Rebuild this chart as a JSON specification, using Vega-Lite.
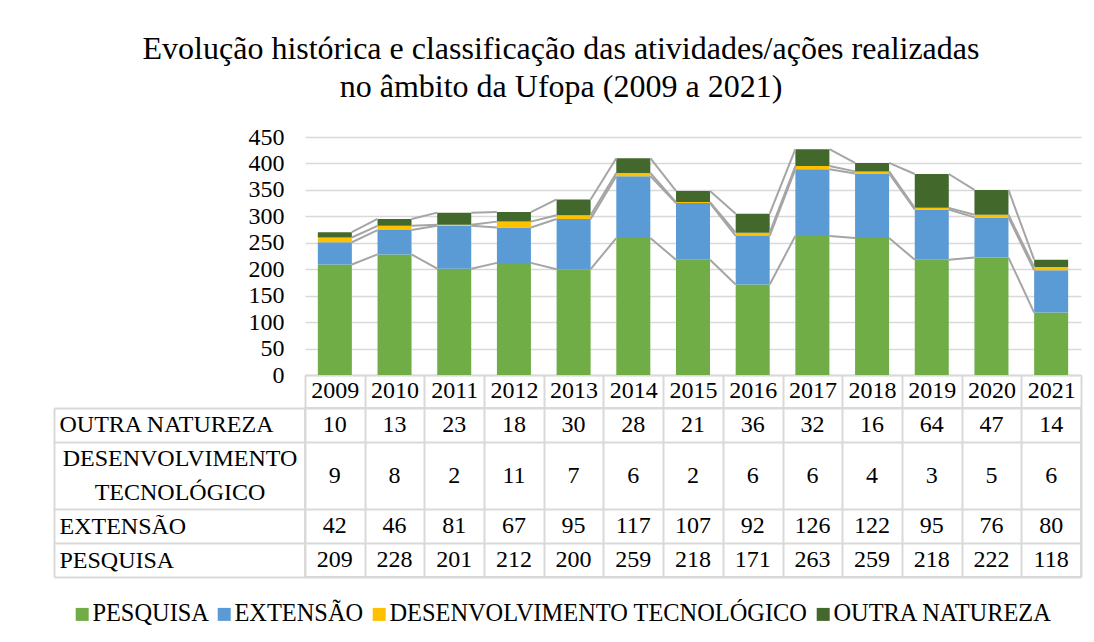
{
  "$schema": "https://vega.github.io/schema/vega-lite/v6.json",
  "background": "white",
  "padding": {"left": 52, "top": 33, "right": 5, "bottom": 5},
  "title": {
    "text": ["Evolução histórica e classificação das atividades/ações realizadas", "no âmbito da Ufopa (2009 a 2021)"],
    "font": "Liberation Serif", "fontSize": 32, "fontWeight": "normal", "color": "black",
    "anchor": "middle", "lineHeight": 38, "offset": 21, "dx": -6
  },
  "datasets": {
    "d": [
      {"ano": "2009", "serie": "PESQUISA", "k": 1, "valor": 209},
      {"ano": "2010", "serie": "PESQUISA", "k": 1, "valor": 228},
      {"ano": "2011", "serie": "PESQUISA", "k": 1, "valor": 201},
      {"ano": "2012", "serie": "PESQUISA", "k": 1, "valor": 212},
      {"ano": "2013", "serie": "PESQUISA", "k": 1, "valor": 200},
      {"ano": "2014", "serie": "PESQUISA", "k": 1, "valor": 259},
      {"ano": "2015", "serie": "PESQUISA", "k": 1, "valor": 218},
      {"ano": "2016", "serie": "PESQUISA", "k": 1, "valor": 171},
      {"ano": "2017", "serie": "PESQUISA", "k": 1, "valor": 263},
      {"ano": "2018", "serie": "PESQUISA", "k": 1, "valor": 259},
      {"ano": "2019", "serie": "PESQUISA", "k": 1, "valor": 218},
      {"ano": "2020", "serie": "PESQUISA", "k": 1, "valor": 222},
      {"ano": "2021", "serie": "PESQUISA", "k": 1, "valor": 118},
      {"ano": "2009", "serie": "EXTENSÃO", "k": 2, "valor": 42},
      {"ano": "2010", "serie": "EXTENSÃO", "k": 2, "valor": 46},
      {"ano": "2011", "serie": "EXTENSÃO", "k": 2, "valor": 81},
      {"ano": "2012", "serie": "EXTENSÃO", "k": 2, "valor": 67},
      {"ano": "2013", "serie": "EXTENSÃO", "k": 2, "valor": 95},
      {"ano": "2014", "serie": "EXTENSÃO", "k": 2, "valor": 117},
      {"ano": "2015", "serie": "EXTENSÃO", "k": 2, "valor": 107},
      {"ano": "2016", "serie": "EXTENSÃO", "k": 2, "valor": 92},
      {"ano": "2017", "serie": "EXTENSÃO", "k": 2, "valor": 126},
      {"ano": "2018", "serie": "EXTENSÃO", "k": 2, "valor": 122},
      {"ano": "2019", "serie": "EXTENSÃO", "k": 2, "valor": 95},
      {"ano": "2020", "serie": "EXTENSÃO", "k": 2, "valor": 76},
      {"ano": "2021", "serie": "EXTENSÃO", "k": 2, "valor": 80},
      {"ano": "2009", "serie": "DESENVOLVIMENTO TECNOLÓGICO", "k": 3, "valor": 9},
      {"ano": "2010", "serie": "DESENVOLVIMENTO TECNOLÓGICO", "k": 3, "valor": 8},
      {"ano": "2011", "serie": "DESENVOLVIMENTO TECNOLÓGICO", "k": 3, "valor": 2},
      {"ano": "2012", "serie": "DESENVOLVIMENTO TECNOLÓGICO", "k": 3, "valor": 11},
      {"ano": "2013", "serie": "DESENVOLVIMENTO TECNOLÓGICO", "k": 3, "valor": 7},
      {"ano": "2014", "serie": "DESENVOLVIMENTO TECNOLÓGICO", "k": 3, "valor": 6},
      {"ano": "2015", "serie": "DESENVOLVIMENTO TECNOLÓGICO", "k": 3, "valor": 2},
      {"ano": "2016", "serie": "DESENVOLVIMENTO TECNOLÓGICO", "k": 3, "valor": 6},
      {"ano": "2017", "serie": "DESENVOLVIMENTO TECNOLÓGICO", "k": 3, "valor": 6},
      {"ano": "2018", "serie": "DESENVOLVIMENTO TECNOLÓGICO", "k": 3, "valor": 4},
      {"ano": "2019", "serie": "DESENVOLVIMENTO TECNOLÓGICO", "k": 3, "valor": 3},
      {"ano": "2020", "serie": "DESENVOLVIMENTO TECNOLÓGICO", "k": 3, "valor": 5},
      {"ano": "2021", "serie": "DESENVOLVIMENTO TECNOLÓGICO", "k": 3, "valor": 6},
      {"ano": "2009", "serie": "OUTRA NATUREZA", "k": 4, "valor": 10},
      {"ano": "2010", "serie": "OUTRA NATUREZA", "k": 4, "valor": 13},
      {"ano": "2011", "serie": "OUTRA NATUREZA", "k": 4, "valor": 23},
      {"ano": "2012", "serie": "OUTRA NATUREZA", "k": 4, "valor": 18},
      {"ano": "2013", "serie": "OUTRA NATUREZA", "k": 4, "valor": 30},
      {"ano": "2014", "serie": "OUTRA NATUREZA", "k": 4, "valor": 28},
      {"ano": "2015", "serie": "OUTRA NATUREZA", "k": 4, "valor": 21},
      {"ano": "2016", "serie": "OUTRA NATUREZA", "k": 4, "valor": 36},
      {"ano": "2017", "serie": "OUTRA NATUREZA", "k": 4, "valor": 32},
      {"ano": "2018", "serie": "OUTRA NATUREZA", "k": 4, "valor": 16},
      {"ano": "2019", "serie": "OUTRA NATUREZA", "k": 4, "valor": 64},
      {"ano": "2020", "serie": "OUTRA NATUREZA", "k": 4, "valor": 47},
      {"ano": "2021", "serie": "OUTRA NATUREZA", "k": 4, "valor": 14}
    ]
  },
  "spacing": -13,
  "vconcat": [
    {
      "width": 776,
      "height": 238,
      "data": {"name": "d"},
      "transform": [
        {"stack": "valor", "groupby": ["ano"], "sort": [{"field": "k", "order": "ascending"}], "as": ["v0", "v1"]},
        {"window": [{"op": "lead", "field": "ano", "as": "prox_ano"}, {"op": "lead", "field": "v1", "as": "prox_v1"}], "groupby": ["serie"], "sort": [{"field": "ano", "order": "ascending"}]}
      ],
      "layer": [
        {
          "mark": {"type": "bar", "width": {"band": 0.57}},
          "encoding": {
            "x": {
              "field": "ano", "type": "nominal", "title": null,
              "scale": {"paddingInner": 0, "paddingOuter": 0},
              "axis": {
                "orient": "bottom", "labelAngle": 0, "domain": true, "domainColor": "#d9d9d9", "domainWidth": 2,
                "ticks": true, "tickSize": 32, "tickColor": "#d9d9d9", "tickWidth": 2, "tickOpacity": 1,
                "tickBand": "extent", "minExtent": 0,
                "labelPadding": -17, "labelBaseline": "middle", "grid": false
              }
            },
            "y": {
              "field": "v0", "type": "quantitative", "title": null,
              "scale": {"domain": [0, 450], "nice": false},
              "axis": {
                "values": [0, 50, 100, 150, 200, 250, 300, 350, 400, 450], "labelOverlap": false,
                "domain": false, "ticks": false, "tickSize": 0, "labelPadding": 21,
                "grid": true, "gridColor": "#d9d9d9", "gridWidth": 1.5
              }
            },
            "y2": {"field": "v1"},
            "color": {
              "field": "serie", "type": "nominal",
              "scale": {
                "domain": ["PESQUISA", "EXTENSÃO", "DESENVOLVIMENTO TECNOLÓGICO", "OUTRA NATUREZA"],
                "range": ["#70ad47", "#5b9bd5", "#ffc000", "#43682b"]
              },
              "legend": {
                "orient": "none", "legendX": -235, "legendY": 465, "direction": "horizontal",
                "title": null, "symbolType": "square", "symbolSize": 169, "symbolStrokeWidth": 0,
                "labelFont": "Liberation Serif", "labelFontSize": 24.4, "labelColor": "black", "labelLimit": 700,
                "labelOffset": -2, "columnPadding": 3
              }
            }
          }
        },
        {
          "transform": [{"filter": "datum.prox_ano != null"}],
          "mark": {"type": "rule", "color": "#a5a5a5", "strokeWidth": 2},
          "encoding": {
            "x": {"field": "ano", "type": "nominal", "bandPosition": 0.785},
            "x2": {"field": "prox_ano", "bandPosition": 0.215},
            "y": {
              "field": "v1", "type": "quantitative", "title": null,
              "axis": {
                "values": [0, 50, 100, 150, 200, 250, 300, 350, 400, 450], "labelOverlap": false,
                "domain": false, "ticks": false, "tickSize": 0, "labelPadding": 21,
                "grid": true, "gridColor": "#d9d9d9", "gridWidth": 1.5
              }
            },
            "y2": {"field": "prox_v1"}
          }
        }
      ]
    },
    {
      "width": 776,
      "height": 169,
      "view": {"stroke": "#d9d9d9", "strokeWidth": 2},
      "data": {"name": "d"},
      "layer": [
        {
          "transform": [{"filter": "datum.serie != 'DESENVOLVIMENTO TECNOLÓGICO'"}],
          "mark": {"type": "text", "font": "Liberation Serif", "fontSize": 24, "color": "black", "baseline": "middle", "align": "center"},
          "encoding": {
            "x": {
              "field": "ano", "type": "nominal", "title": null,
              "scale": {"paddingInner": 0, "paddingOuter": 0},
              "axis": {
                "orient": "bottom", "labels": false, "ticks": false, "domain": false, "minExtent": 0,
                "grid": true, "gridColor": "#d9d9d9", "gridWidth": 2, "tickBand": "extent"
              }
            },
            "y": {
              "field": "serie", "type": "nominal", "title": null,
              "scale": {"domain": ["OUTRA NATUREZA", "DESENVOLVIMENTO", "TECNOLÓGICO", "EXTENSÃO", "PESQUISA"], "paddingInner": 0, "paddingOuter": 0},
              "axis": {
                "orient": "left", "domain": false,
                "ticks": true, "tickSize": 251, "tickColor": "#d9d9d9", "tickWidth": 2,
                "tickBand": "extent",
                "tickOpacity": {"condition": {"test": "datum.value === 'DESENVOLVIMENTO'", "value": 0}, "value": 1},
                "grid": true, "gridColor": "#d9d9d9", "gridWidth": 2,
                "gridOpacity": {"condition": {"test": "datum.value === 'DESENVOLVIMENTO'", "value": 0}, "value": 1},
                "labelBaseline": "middle",
                "labelAlign": {"condition": {"test": "datum.value === 'DESENVOLVIMENTO' || datum.value === 'TECNOLÓGICO'", "value": "center"}, "value": "left"},
                "labelPadding": {"condition": {"test": "datum.value === 'DESENVOLVIMENTO' || datum.value === 'TECNOLÓGICO'", "value": -125.5}, "value": -5}
              }
            },
            "text": {"field": "valor", "type": "quantitative"}
          }
        },
        {
          "transform": [{"filter": "datum.serie == 'DESENVOLVIMENTO TECNOLÓGICO'"}],
          "mark": {"type": "text", "font": "Liberation Serif", "fontSize": 24, "color": "black", "baseline": "middle", "align": "center"},
          "encoding": {
            "x": {"field": "ano", "type": "nominal"},
            "y": {
              "datum": "DESENVOLVIMENTO", "type": "nominal", "bandPosition": 1,
              "axis": {
                "orient": "left", "offset": 251, "title": null, "labels": false, "ticks": false, "grid": false,
                "domain": true, "domainColor": "#d9d9d9", "domainWidth": 2
              }
            },
            "text": {"field": "valor", "type": "quantitative"}
          }
        }
      ],
      "resolve": {"axis": {"y": "independent"}}
    }
  ],
  "config": {
    "view": {"stroke": null},
    "font": "Liberation Serif",
    "axis": {"labelFont": "Liberation Serif", "labelFontSize": 24, "labelColor": "black", "labelLimit": 400}
  }
}
